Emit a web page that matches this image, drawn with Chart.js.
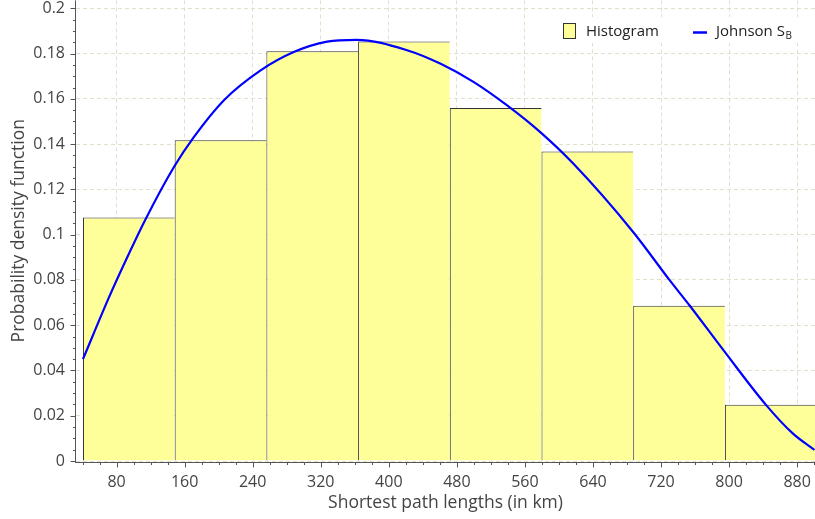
<!DOCTYPE html>
<html>
<head>
<meta charset="utf-8">
<script src="https://cdn.jsdelivr.net/npm/chart.js@4.4.1/dist/chart.umd.min.js"></script>
<style>
  html, body { margin: 0; padding: 0; background: #ffffff; }
  canvas { display: block; }
</style>
</head>
<body>
<canvas id="chart" width="815" height="519"></canvas>
<script>
// Histogram of shortest path lengths (km) with a fitted Johnson SB density curve.
const binCenters = [94.4, 202.2, 310.0, 417.8, 525.6, 633.4, 741.2, 849.0];
const binDensity = [0.1076, 0.1417, 0.1810, 0.1853, 0.1560, 0.1367, 0.0686, 0.0249];

const curveX = [40.5, 71.3, 90.9, 113.5, 147.6, 171.0, 206.2, 249.3, 288.3, 327.5, 362.0,
                421.4, 460.4, 499.5, 538.7, 577.7, 616.8, 687.2, 730.1,
                753.6, 794.7, 843.6, 874.8, 900.3];
const curveY = [0.0450, 0.0725, 0.0887, 0.1064, 0.1300, 0.1432, 0.1594, 0.1726, 0.1807, 0.1853, 0.1861,
                0.1815, 0.1756, 0.1675, 0.1572, 0.1454, 0.1314, 0.1012, 0.0799,
                0.0687, 0.0483, 0.0247, 0.0122, 0.0049];

const xTickValues = [80, 160, 240, 320, 400, 480, 560, 640, 720, 800, 880];
const yTickValues = [0, 0.02, 0.04, 0.06, 0.08, 0.1, 0.12, 0.14, 0.16, 0.18, 0.2];

const X_MIN = 32.3, X_MAX = 901;
const Y_MIN = 0, Y_MAX = 0.2035;

const FONT = '"Open Sans", "DejaVu Sans", sans-serif';
const GRID_COLOR = '#e4dfc8';
const TEXT_COLOR = '#444444';
const AXIS_COLOR = '#555555';

// Axis lines plus major/minor tick marks, drawn over the bars.
const axisDecor = {
  id: 'axisDecor',
  afterDatasetsDraw(chart) {
    const { ctx, chartArea: a, scales: { x, y } } = chart;
    const axisX = a.left - 0.5;
    const axisY = a.bottom + 1.5;
    ctx.save();
    ctx.strokeStyle = AXIS_COLOR;
    ctx.lineWidth = 1;
    ctx.beginPath();
    ctx.moveTo(axisX, a.top);
    ctx.lineTo(axisX, axisY + 0.5);
    ctx.moveTo(axisX, axisY);
    ctx.lineTo(a.right, axisY);
    // y ticks: major every 0.02, minor every 0.005
    for (let k = 0; k * 0.005 <= Y_MAX; k++) {
      const py = Math.round(y.getPixelForValue(k * 0.005)) + 0.5;
      const len = (k % 4 === 0) ? 5 : 2.5;
      ctx.moveTo(axisX - len, py);
      ctx.lineTo(axisX, py);
    }
    // x ticks: major every 80, minor every 20
    for (let v = 40; v <= X_MAX; v += 20) {
      const px = Math.round(x.getPixelForValue(v)) + 0.5;
      const len = (v % 80 === 0) ? 5 : 2.5;
      ctx.moveTo(px, axisY);
      ctx.lineTo(px, axisY + len);
    }
    ctx.stroke();
    ctx.restore();
  }
};

// Legend box in the top-right corner of the plot.
const sbLegend = {
  id: 'sbLegend',
  afterDatasetsDraw(chart) {
    const { ctx } = chart;
    ctx.save();
    ctx.fillStyle = '#ffffff';
    ctx.fillRect(553, 17, 252, 26);

    // Histogram swatch
    ctx.fillStyle = '#ffff99';
    ctx.fillRect(563.5, 23.5, 12, 15);
    ctx.strokeStyle = '#333333';
    ctx.lineWidth = 1;
    ctx.strokeRect(563.5, 23.5, 12, 15);

    ctx.fillStyle = '#222222';
    ctx.textBaseline = 'middle';
    ctx.textAlign = 'left';
    ctx.font = '15px ' + FONT;
    ctx.fillText('Histogram', 586, 31.5);

    // Johnson SB line sample
    ctx.strokeStyle = '#0000ff';
    ctx.lineWidth = 2.5;
    ctx.beginPath();
    ctx.moveTo(693, 32.5);
    ctx.lineTo(707, 32.5);
    ctx.stroke();

    ctx.fillStyle = '#222222';
    ctx.fillText('Johnson S', 716, 31.5);
    const w = ctx.measureText('Johnson S').width;
    ctx.font = '10px ' + FONT;
    ctx.fillText('B', 716 + w + 0.5, 36);
    ctx.restore();
  }
};

const ctx = document.getElementById('chart').getContext('2d');
new Chart(ctx, {
  type: 'bar',
  data: {
    datasets: [
      {
        type: 'line',
        label: 'Johnson SB',
        xAxisID: 'x',
        data: curveX.map((v, i) => ({ x: v, y: curveY[i] })),
        borderColor: '#0000ff',
        borderWidth: 2.2,
        pointRadius: 0,
        fill: false,
        cubicInterpolationMode: 'monotone',
        order: 0
      },
      {
        type: 'bar',
        label: 'Histogram',
        xAxisID: 'xBins',
        data: binCenters.map((v, i) => ({ x: v, y: binDensity[i] })),
        backgroundColor: '#ffff99',
        borderColor: '#333333',
        borderWidth: { top: 1, left: 1, right: 0, bottom: 0 },
        borderSkipped: false,
        grouped: false,
        barPercentage: 1.0,
        categoryPercentage: 1.0,
        inflateAmount: 0,
        order: 1
      }
    ]
  },
  options: {
    responsive: false,
    animation: false,
    devicePixelRatio: 1,
    layout: { padding: 0 },
    plugins: {
      legend: { display: false },
      tooltip: { enabled: false }
    },
    scales: {
      // Same range as x; carries no ticks so the bars span whole bins.
      xBins: {
        type: 'linear',
        position: 'bottom',
        display: false,
        min: X_MIN,
        max: X_MAX,
        offset: false,
        grid: { offset: false },
        afterBuildTicks: s => { s.ticks = []; }
      },
      x: {
        type: 'linear',
        position: 'bottom',
        min: X_MIN,
        max: X_MAX,
        offset: false,
        afterBuildTicks: s => { s.ticks = xTickValues.map(v => ({ value: v })); },
        afterFit: s => { s.height = 58; },
        grid: {
          offset: false,
          color: GRID_COLOR,
          lineWidth: 1,
          drawTicks: true,
          tickLength: 12,
          tickColor: 'rgba(0,0,0,0)'
        },
        border: { display: false, dash: [4, 3] },
        ticks: {
          autoSkip: false,
          maxRotation: 0,
          padding: 0,
          color: TEXT_COLOR,
          font: { family: FONT, size: 16 },
          callback: v => String(v)
        },
        title: {
          display: true,
          text: 'Shortest path lengths (in km)',
          color: TEXT_COLOR,
          font: { family: FONT, size: 17.5 },
          padding: { top: 0, bottom: 5.5 }
        }
      },
      y: {
        type: 'linear',
        min: Y_MIN,
        max: Y_MAX,
        afterBuildTicks: s => { s.ticks = yTickValues.map(v => ({ value: v })); },
        afterFit: s => { s.width = 76; },
        grid: {
          color: GRID_COLOR,
          lineWidth: 1,
          drawTicks: true,
          tickLength: 11,
          tickColor: 'rgba(0,0,0,0)'
        },
        border: { display: false, dash: [4, 3] },
        ticks: {
          padding: 0,
          color: TEXT_COLOR,
          font: { family: FONT, size: 16, lineHeight: 0.05 },
          callback: v => String(parseFloat(Number(v).toFixed(3)))
        },
        title: {
          display: true,
          text: 'Probability density function',
          color: TEXT_COLOR,
          font: { family: FONT, size: 17.5 },
          padding: { top: 9, bottom: 0 }
        }
      }
    }
  },
  plugins: [axisDecor, sbLegend]
});
</script>
</body>
</html>
